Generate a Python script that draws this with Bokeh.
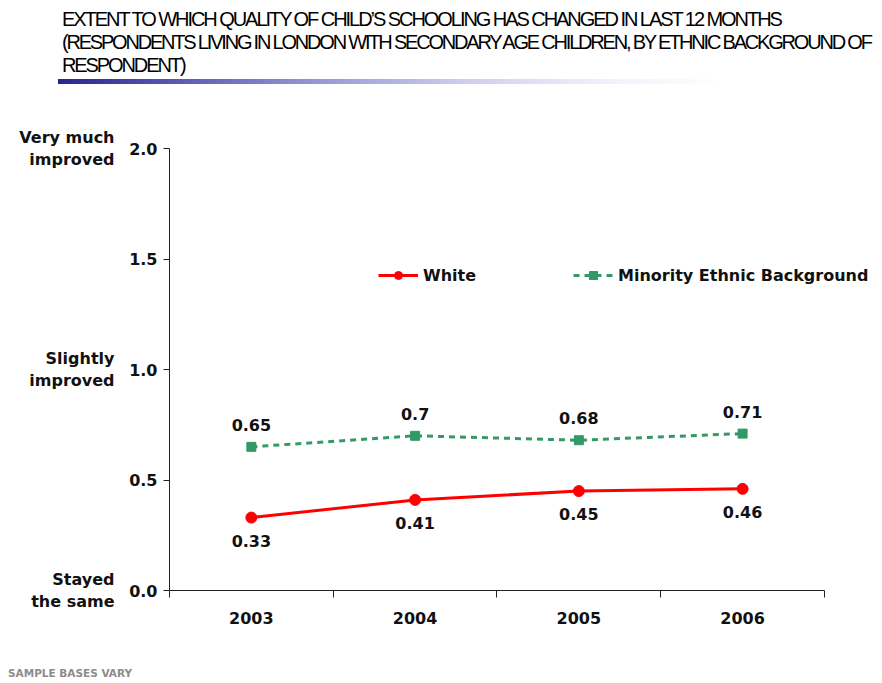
from bokeh.plotting import figure
from bokeh.layouts import column
from bokeh.models import (ColumnDataSource, FixedTicker, Range1d, LabelSet,
                          Legend, LegendItem, LinearAxis, Div)
from bokeh.core.properties import value
from bokeh.embed import file_html
from bokeh.resources import INLINE

# ---- data ----
years = ["2003", "2004", "2005", "2006"]
white = [0.33, 0.41, 0.45, 0.46]
minority = [0.65, 0.70, 0.68, 0.71]
series_names = ["White", "Minority Ethnic Background"]
y_ticks = [0.0, 0.5, 1.0, 1.5, 2.0]
y_side_ticks = [0.0, 1.0, 2.0]
y_side_labels = ["Stayed\nthe same", "Slightly\nimproved", "Very much\nimproved"]
title_lines = [
    "EXTENT TO WHICH QUALITY OF CHILD\u2019S SCHOOLING HAS CHANGED IN LAST 12 MONTHS",
    "(RESPONDENTS LIVING IN LONDON WITH SECONDARY AGE CHILDREN, BY ETHNIC BACKGROUND OF",
    "RESPONDENT)",
]
footnote = "SAMPLE BASES VARY"

FONT = "DejaVu Sans"
FS = "16px"
W = 880
HEAD_H, MAIN_H, FOOT_H = 100, 565, 17

# ---------------- header (title + gradient rule) ----------------
title_spacing = [-2.05, -2.2, -2.1]
title_html = "".join(
    f'<div style="position:absolute;left:62px;top:{8 + 23 * i}px;white-space:nowrap;'
    f'font-family:\'Liberation Sans\',Arial,sans-serif;font-size:20px;line-height:23px;'
    f'letter-spacing:{title_spacing[i]}px;color:#000">{line}</div>'
    for i, line in enumerate(title_lines))
rule_html = ('<div style="position:absolute;left:58px;top:79px;width:664px;height:5px;'
             'background:linear-gradient(to right,#26268f 0%,#5a5ab4 18%,#9a9ad6 40%,'
             '#cfcfee 62%,#f0f0fa 82%,#ffffff 100%)"></div>')
hd = Div(text=f'<div style="position:relative;width:{W}px;height:{HEAD_H}px">'
              f'{title_html}{rule_html}</div>',
         width=W, height=HEAD_H, margin=0)

# ---------------- main chart ----------------
xpos = [i + 0.5 for i in range(len(years))]
src = ColumnDataSource(dict(
    x=xpos, white=white, minority=minority,
    wlab=[f"{v:g}" for v in white], mlab=[f"{v:g}" for v in minority]))

p = figure(width=W, height=MAIN_H, output_backend="svg", toolbar_location=None,
           x_range=Range1d(0, len(years) + 0.33), y_range=Range1d(0, 2.0),
           min_border_left=169, min_border_right=2, min_border_top=48,
           min_border_bottom=75, margin=0)
p.outline_line_color = None
p.grid.visible = False

# x axis
p.xaxis.bounds = (0, len(years))
p.xaxis.ticker = FixedTicker(ticks=xpos, minor_ticks=list(range(len(years) + 1)))
p.xaxis.major_label_overrides = {x: y for x, y in zip(xpos, years)}
p.xaxis.major_tick_out = 0
p.xaxis.major_tick_in = 0
p.xaxis.minor_tick_out = 7
p.xaxis.minor_tick_in = 0
p.xaxis.minor_tick_line_color = "#222222"
p.xaxis.axis_line_color = "#222222"
p.xaxis.major_label_standoff = 14
p.xaxis.major_label_text_font = FONT
p.xaxis.major_label_text_font_style = "bold"
p.xaxis.major_label_text_font_size = FS
p.xaxis.major_label_text_color = "#111111"

# y axis
p.yaxis.ticker = FixedTicker(ticks=y_ticks)
p.yaxis.major_label_overrides = {t: f"{t:.1f}" for t in y_ticks}
p.yaxis.major_tick_out = 6
p.yaxis.major_tick_in = 0
p.yaxis.minor_tick_line_color = None
p.yaxis.axis_line_color = "#222222"
p.yaxis.major_tick_line_color = "#222222"
p.yaxis.major_label_standoff = 6
p.yaxis.major_label_text_font = FONT
p.yaxis.major_label_text_font_style = "bold"
p.yaxis.major_label_text_font_size = FS
p.yaxis.major_label_text_color = "#111111"

# descriptive scale labels as a second left axis
side = LinearAxis(ticker=FixedTicker(ticks=y_side_ticks),
                  major_label_overrides=dict(zip(y_side_ticks, y_side_labels)),
                  axis_line_color=None, major_tick_line_color=None,
                  minor_tick_line_color=None, major_label_standoff=6,
                  major_label_text_font=FONT, major_label_text_font_style="bold",
                  major_label_text_font_size=FS, major_label_text_color="#111111",
                  major_label_text_line_height=1.15)
p.add_layout(side, "left")

# series
RED = "#ff0000"
GREEN = "#339966"
wl = p.line("x", "white", source=src, line_color=RED, line_width=3)
wm = p.scatter("x", "white", source=src, marker="circle", size=11, fill_color=RED, line_color=RED)
ml = p.line("x", "minority", source=src, line_color=GREEN, line_width=3, line_dash="6 5")
mm = p.scatter("x", "minority", source=src, marker="square", size=9, fill_color=GREEN, line_color=GREEN)

lab_kw = dict(text_font=value(FONT), text_font_style="bold", text_font_size=FS,
              text_color="#111111", text_align="center", text_baseline="middle")
p.add_layout(LabelSet(x="x", y="white", text="wlab", source=src, y_offset=-23, **lab_kw))
p.add_layout(LabelSet(x="x", y="minority", text="mlab", source=src, y_offset=22, **lab_kw))

legend = Legend(items=[LegendItem(label=series_names[0], renderers=[wl, wm]),
                       LegendItem(label=series_names[1], renderers=[ml, mm])],
                location=(209, 305), orientation="horizontal", spacing=97,
                padding=0, margin=0, border_line_color=None, background_fill_alpha=0,
                glyph_width=40, glyph_height=20, label_height=20, label_standoff=5,
                label_text_font=FONT, label_text_font_style="bold",
                label_text_font_size=FS, label_text_color="#111111")
p.add_layout(legend)

# ---------------- footer ----------------
ft = Div(text=f'<div style="position:relative;width:{W}px;height:{FOOT_H}px">'
              f'<div style="position:absolute;left:8px;top:1px;white-space:nowrap;'
              f'font-family:\'DejaVu Sans\',sans-serif;font-weight:bold;font-size:10.5px;'
              f'line-height:14px;color:#8c8c8c">{footnote}</div></div>',
         width=W, height=FOOT_H, margin=0)

layout = column(hd, p, ft, spacing=0)
open("out.html", "w").write(file_html(layout, INLINE))
